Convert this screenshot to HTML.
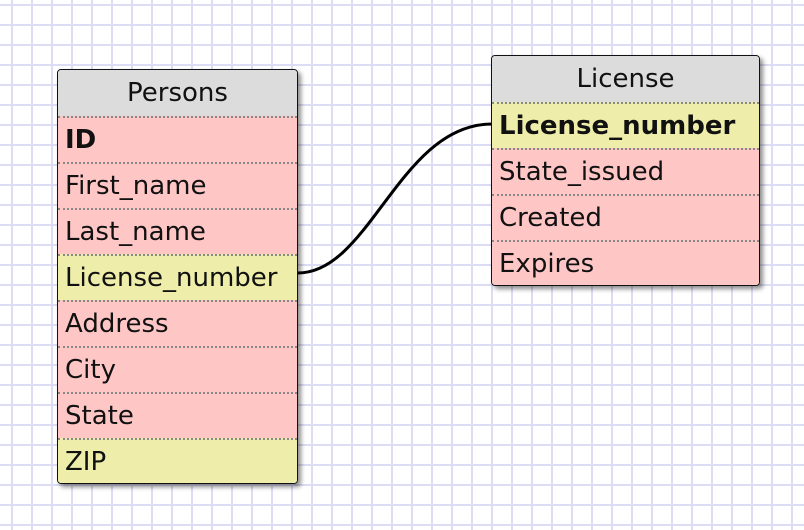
<!DOCTYPE html><html><head><style>
body{margin:0;width:804px;height:530px;overflow:hidden;background:#fff;
background-image:linear-gradient(to right,#dcdcf4 2px,transparent 2px),linear-gradient(to bottom,#dcdcf4 2px,transparent 2px);
background-size:20px 20px;background-position:11px 4px;font-family:"DejaVu Sans",Verdana,sans-serif;position:relative}
.t{position:absolute;border:1.5px solid #111;border-radius:4px;box-shadow:3px 3px 5px rgba(0,0,0,.45);overflow:hidden;box-sizing:border-box}
.h{height:46px;background:#dcdcdc;text-align:center;font-size:26px;line-height:46px;color:#111}
.r{height:46px;line-height:44px;font-size:26px;padding-left:7px;border-top:2px dotted #888;box-sizing:border-box;color:#111;background:#ffc6c6;white-space:nowrap}
.y{background:#eeeeaa}.b{font-weight:bold}
</style></head><body>
<svg width="804" height="530" style="position:absolute;left:0;top:0"><path d="M298 273 C370 273 400 124 492 124" stroke="#000" stroke-width="3" fill="none"/></svg>
<div class="t" style="left:57px;top:69px;width:241px;height:415px">
<div class="h">Persons</div>
<div class="r b">ID</div><div class="r">First_name</div><div class="r">Last_name</div>
<div class="r y">License_number</div><div class="r">Address</div><div class="r">City</div><div class="r">State</div><div class="r y">ZIP</div>
</div>
<div class="t" style="left:491px;top:55px;width:269px;height:231px">
<div class="h">License</div>
<div class="r y b">License_number</div><div class="r">State_issued</div><div class="r">Created</div><div class="r">Expires</div>
</div>
</body></html>
